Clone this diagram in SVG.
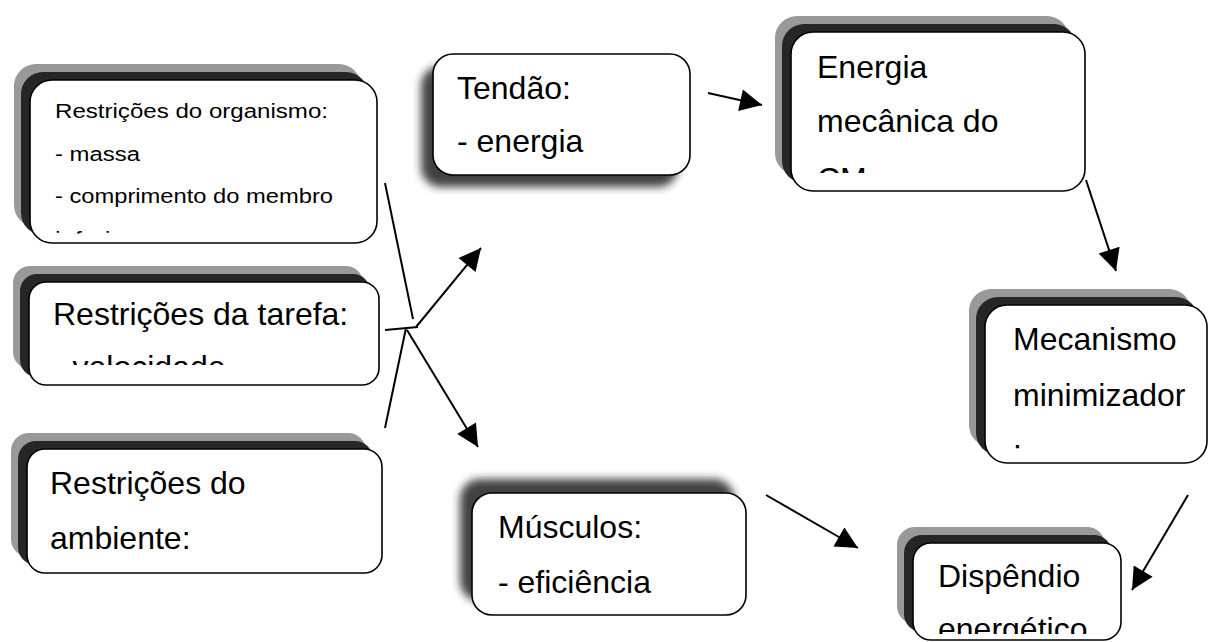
<svg xmlns="http://www.w3.org/2000/svg" width="1210" height="642" viewBox="0 0 1210 642">
<style>
.g{fill:#999999}
.d{fill:#262626}
.w{fill:#ffffff;stroke:#000000;stroke-width:1.6}
.t{font-family:"Liberation Sans",Arial,sans-serif;font-size:32px;fill:#000000}
.s{font-size:20px}
.c line{stroke:#000000;stroke-width:2}
.sh{fill:#222222;opacity:0.85;filter:url(#blur)}
</style>
<defs>
<filter id="blur" x="-20%" y="-30%" width="140%" height="160%"><feGaussianBlur stdDeviation="4"/></filter>
<marker id="ah" viewBox="0 0 10 10" refX="10" refY="5" markerUnits="userSpaceOnUse" markerWidth="26" markerHeight="22" orient="auto"><path d="M0,0 L10,5 L0,10 z" fill="#000000"/></marker>
<clipPath id="c1"><rect x="30" y="80" width="347" height="153.5"/></clipPath>
<clipPath id="c2"><rect x="29" y="282" width="350" height="83"/></clipPath>
<clipPath id="c5"><rect x="791" y="32" width="294" height="141"/></clipPath>
<clipPath id="c6"><rect x="985" y="305" width="222" height="146"/></clipPath>
<clipPath id="c8"><rect x="913" y="543" width="208" height="91"/></clipPath>
</defs>

<g id="connectors" class="c">
<line x1="385" y1="183" x2="413" y2="319"/>
<line x1="385" y1="330" x2="418" y2="327"/>
<line x1="385" y1="428" x2="406" y2="328"/>
<line x1="416" y1="327" x2="481" y2="248" marker-end="url(#ah)"/>
<line x1="407" y1="330" x2="478" y2="447" marker-end="url(#ah)"/>
<line x1="708" y1="93" x2="762" y2="105" marker-end="url(#ah)"/>
<line x1="1086" y1="180" x2="1116" y2="271" marker-end="url(#ah)"/>
<line x1="1188" y1="495" x2="1132" y2="590" marker-end="url(#ah)"/>
<line x1="766" y1="495" x2="858" y2="548" marker-end="url(#ah)"/>
</g>

<g id="organismo">
<rect class="g" x="14" y="64" width="347" height="163" rx="22"/>
<rect class="d" x="21" y="72" width="347" height="163" rx="22"/>
<rect class="w" x="30" y="80" width="347" height="163" rx="22"/>
<g clip-path="url(#c1)" class="t s">
<text x="55" y="118" textLength="273" lengthAdjust="spacingAndGlyphs">Restrições do organismo:</text>
<text x="55" y="161" textLength="85" lengthAdjust="spacingAndGlyphs">- massa</text>
<text x="55" y="203" textLength="278" lengthAdjust="spacingAndGlyphs">- comprimento do membro</text>
<text x="55" y="246" textLength="78" lengthAdjust="spacingAndGlyphs">inferior</text>
</g>
</g>

<g id="tarefa">
<rect class="g" x="13" y="266" width="350" height="103" rx="17"/>
<rect class="d" x="20" y="274" width="350" height="103" rx="17"/>
<rect class="w" x="29" y="282" width="350" height="103" rx="17"/>
<g clip-path="url(#c2)" class="t">
<text x="53" y="325">Restrições da tarefa:</text>
<text x="53" y="378">- velocidade</text>
</g>
</g>

<g id="ambiente">
<rect class="g" x="11" y="433" width="355" height="124" rx="18"/>
<rect class="d" x="18" y="441" width="355" height="124" rx="18"/>
<rect class="w" x="27" y="449" width="355" height="124" rx="18"/>
<text class="t" x="50" y="494">Restrições do</text>
<text class="t" x="50" y="549">ambiente:</text>
</g>

<g id="tendao">
<rect class="sh" x="421" y="66" width="257" height="121" rx="20"/>
<rect class="w" x="433" y="54" width="257" height="121" rx="20"/>
<text class="t" x="457" y="99">Tendão:</text>
<text class="t" x="457" y="152">- energia</text>
</g>

<g id="energia">
<rect class="g" x="775" y="16" width="294" height="159" rx="22"/>
<rect class="d" x="782" y="24" width="294" height="159" rx="22"/>
<rect class="w" x="791" y="32" width="294" height="159" rx="22"/>
<g clip-path="url(#c5)" class="t">
<text x="817" y="78">Energia</text>
<text x="817" y="132">mecânica do</text>
<text x="817" y="190">CM:</text>
</g>
</g>

<g id="mecanismo">
<rect class="g" x="969" y="289" width="222" height="158" rx="22"/>
<rect class="d" x="976" y="297" width="222" height="158" rx="22"/>
<rect class="w" x="985" y="305" width="222" height="158" rx="22"/>
<g clip-path="url(#c6)" class="t">
<text x="1013" y="350">Mecanismo</text>
<text x="1013" y="406">minimizador</text>
<text x="1013" y="462">:</text>
</g>
</g>

<g id="musculos">
<rect class="sh" x="460" y="479" width="274" height="122" rx="20"/>
<rect class="w" x="472" y="493" width="274" height="122" rx="20"/>
<text class="t" x="498" y="538">Músculos:</text>
<text class="t" x="498" y="593">- eficiência</text>
</g>

<g id="dispendio">
<rect class="g" x="897" y="527" width="208" height="97" rx="18"/>
<rect class="d" x="904" y="535" width="208" height="97" rx="18"/>
<rect class="w" x="913" y="543" width="208" height="97" rx="18"/>
<g clip-path="url(#c8)" class="t">
<text x="938" y="587">Dispêndio</text>
<text x="938" y="640">energético</text>
</g>
</g>
</svg>
